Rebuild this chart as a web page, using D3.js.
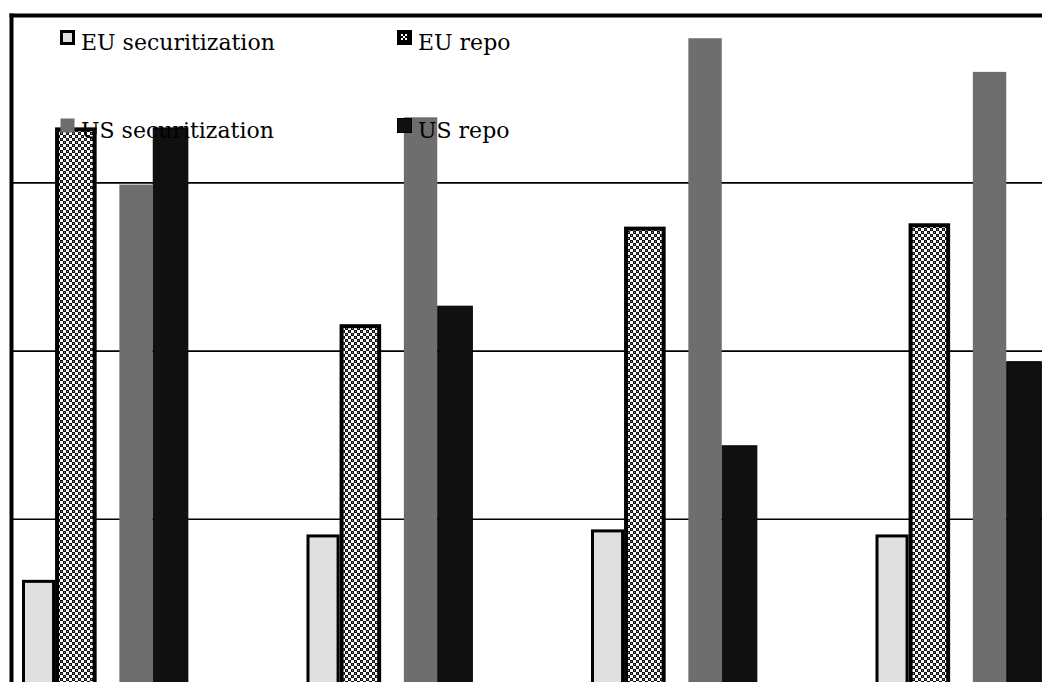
<!DOCTYPE html>
<html>
<head>
<meta charset="utf-8">
<script src="https://cdn.jsdelivr.net/npm/d3@7"></script>
<style>
  html, body { margin: 0; padding: 0; background: #fff; }
  svg { display: block; }
</style>
</head>
<body>
<svg id="chart" width="1042" height="682"></svg>
<script>
// ---- data ----
const groups = ["G1", "G2", "G3", "G4"];
const series = ["EU securitization", "EU repo", "US securitization", "US repo"];
const euSecuritization = [0.64, 0.91, 0.94, 0.91];
const euRepo = [3.33, 2.16, 2.74, 2.76];
const usSecuritization = [2.99, 3.39, 3.86, 3.66];
const usRepo = [3.33, 2.27, 1.44, 1.94];
const gridTicks = [1, 2, 3];
const values = [euSecuritization, euRepo, usSecuritization, usRepo];

// ---- layout ----
const W = 1042, H = 682;
const svg = d3.select("#chart");
const defs = svg.append("defs");
const pat = defs.append("pattern")
  .attr("id", "checker").attr("patternUnits", "userSpaceOnUse")
  .attr("width", 6).attr("height", 6);
pat.append("rect").attr("width", 6).attr("height", 6).attr("fill", "#fff");
pat.append("rect").attr("x", 0).attr("y", 0).attr("width", 3).attr("height", 3).attr("fill", "#111");
pat.append("rect").attr("x", 3).attr("y", 3).attr("width", 3).attr("height", 3).attr("fill", "#111");
pat.append("rect").attr("x", 1).attr("y", 1).attr("width", 1).attr("height", 1).attr("fill", "#888");
pat.append("rect").attr("x", 4).attr("y", 4).attr("width", 1).attr("height", 1).attr("fill", "#888");

const x = d3.scaleBand().domain(groups).range([22, 1042.5]).paddingInner(0.413).paddingOuter(0);
const y = d3.scaleLinear().domain([0, 4]).range([687.5, 14.7]);

// inner slot fractions of group band
const slotStart = d3.scaleOrdinal().domain(series).range([0, 0.198, 0.583, 0.783]);
const slotEnd = d3.scaleOrdinal().domain(series).range([0.198, 0.447, 0.783, 0.996]);
const fillOf = d3.scaleOrdinal().domain(series).range(["#e0e0e0", "url(#checker)", "#6e6e6e", "#101010"]);
const strokeOf = d3.scaleOrdinal().domain(series).range(["#000", "#000", "none", "#000"]);
const strokeW = d3.scaleOrdinal().domain(series).range([3, 4, 0, 1]);

// gridlines
svg.append("g").selectAll("line").data(gridTicks).join("line")
  .attr("x1", 12).attr("x2", W)
  .attr("y1", d => y(d)).attr("y2", d => y(d))
  .attr("stroke", "#000").attr("stroke-width", 1.6);

// bars
const bw = x.bandwidth();
const barData = [];
series.forEach((s, si) => {
  groups.forEach((g, gi) => {
    barData.push({ s, g, v: values[si][gi] });
  });
});
svg.append("g").selectAll("rect").data(barData).join("rect")
  .attr("x", d => x(d.g) + slotStart(d.s) * bw + strokeW(d.s) / 2)
  .attr("width", d => (slotEnd(d.s) - slotStart(d.s)) * bw - strokeW(d.s))
  .attr("y", d => y(d.v) + strokeW(d.s) / 2)
  .attr("height", d => y(0) - y(d.v))
  .attr("fill", d => fillOf(d.s))
  .attr("stroke", d => strokeOf(d.s))
  .attr("stroke-width", d => strokeW(d.s));

// frame
svg.append("line").attr("x1", 9.5).attr("x2", W).attr("y1", 15.5).attr("y2", 15.5)
  .attr("stroke", "#000").attr("stroke-width", 4);
svg.append("line").attr("x1", 11.5).attr("x2", 11.5).attr("y1", 13.5).attr("y2", H)
  .attr("stroke", "#000").attr("stroke-width", 4);

// legend
const legPos = [[60, 30], [397, 30], [60, 118], [397, 118]];
const leg = svg.append("g").selectAll("g").data(series).join("g")
  .attr("transform", (d, i) => `translate(${legPos[i][0]},${legPos[i][1]})`);
leg.append("rect")
  .attr("x", d => strokeW(d) > 1 ? 1.5 : 0.5)
  .attr("y", d => strokeW(d) > 1 ? 1.5 : 0.5)
  .attr("width", d => strokeW(d) > 1 ? 12 : 14)
  .attr("height", d => strokeW(d) > 1 ? 12 : 14)
  .attr("fill", d => d === "EU repo" ? "#000" : fillOf(d))
  .attr("stroke", d => d === "US securitization" ? "none" : "#000")
  .attr("stroke-width", d => strokeW(d) > 1 ? 3 : 1);
leg.filter(d => d === "EU repo").append("g").selectAll("rect")
  .data([[4, 4], [8, 4], [6, 6], [4, 8], [8, 8]]).join("rect")
  .attr("x", d => d[0]).attr("y", d => d[1]).attr("width", 2).attr("height", 2).attr("fill", "#fff");
leg.append("text")
  .attr("x", 21).attr("y", 19.5)
  .attr("font-family", "'DejaVu Serif', serif")
  .attr("font-size", 22)
  .attr("fill", "#000")
  .text(d => d);
</script>
</body>
</html>
